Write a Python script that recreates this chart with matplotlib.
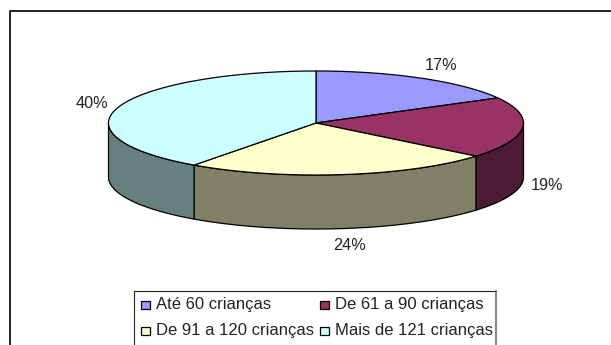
import matplotlib
matplotlib.use('Agg')
import matplotlib.pyplot as plt
import numpy as np
from matplotlib.patches import Polygon, Rectangle

categories = ['Até 60 crianças', 'De 61 a 90 crianças', 'De 91 a 120 crianças', 'Mais de 121 crianças']
percentages = [17, 19, 24, 40]
top_colors = ['#9999FF', '#993366', '#FFFFCC', '#CCFFFF']
side_colors = ['#4D4D80', '#4D1A33', '#808066', '#668080']

# pie ellipse, in pixels
cx, cy = 316, 123
rx, ry = 207.5, 52
depth = 54

label_pos = [(441, 66), (547, 185), (350, 245), (92, 104)]
legend_pos = [(141, 305), (320, 305), (141, 331), (320, 331)]

plt.rcParams['font.family'] = ['Liberation Sans', 'DejaVu Sans']

fig = plt.figure(figsize=(6.11, 3.45), dpi=100)
ax = fig.add_axes([0, 0, 1, 1])
ax.set_xlim(0, 611)
ax.set_ylim(345, 0)
ax.axis('off')


def rim(a, b, dy=0):
    # points on the ellipse, angles clockwise from 12 o'clock
    t = np.radians(np.linspace(a, b, 120))
    return np.column_stack([cx + rx * np.sin(t), cy - ry * np.cos(t) + dy])


# chart frame, open on the right and bottom
ax.plot([10, 10, 611], [345, 10.5, 10.5], color='#222222', lw=1.4)

edges = np.cumsum([0] + percentages) * 3.6

# front wall of the cylinder
for i, color in enumerate(side_colors):
    a = max(edges[i], 90)
    b = min(edges[i + 1], 270)
    if a >= b:
        continue
    pts = np.vstack([rim(a, b), rim(a, b, depth)[::-1]])
    ax.add_patch(Polygon(pts, closed=True, fc=color, ec='black', lw=0.9, joinstyle='round'))

# top faces
for i, color in enumerate(top_colors):
    pts = np.vstack([[cx, cy], rim(edges[i], edges[i + 1])])
    ax.add_patch(Polygon(pts, closed=True, fc=color, ec='black', lw=0.9, joinstyle='round'))

for value, (x, y) in zip(percentages, label_pos):
    ax.text(x, y, f'{value}%', ha='center', va='center', fontsize=11.7, color='#222222')

# legend box: dark top and left, greyer right and bottom
ax.plot([134, 134, 496], [344.5, 291, 291], color='#222222', lw=0.8)
ax.plot([496, 496], [291, 344.5], color='#666666', lw=1.1)
ax.plot([134, 496], [344.5, 344.5], color='#BBBBBB', lw=0.8)
for name, color, (x, y) in zip(categories, top_colors, legend_pos):
    ax.add_patch(Rectangle((x, y - 4), 9, 8, fc=color, ec='black', lw=0.9))
    ax.text(x + 15, y, name, ha='left', va='center', fontsize=12, color='#222222')

fig.savefig('out.png', dpi=100)
